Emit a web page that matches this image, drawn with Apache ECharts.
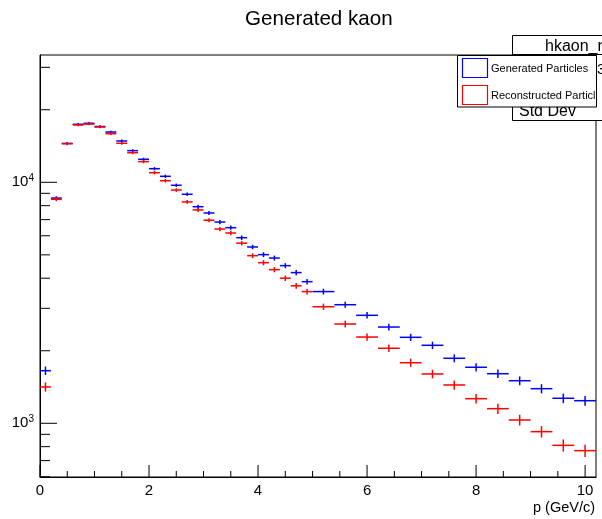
<!DOCTYPE html>
<html>
<head>
<meta charset="utf-8">
<script src="https://cdn.jsdelivr.net/npm/echarts@6/dist/echarts.min.js"></script>
<style>
html,body{margin:0;padding:0;background:#fff;}
#chart{width:602px;height:519px;}
</style>
</head>
<body>
<div id="chart"></div>
<script>
// ---- data ----
const binEdges = [0,0.2,0.4,0.6,0.8,1.0,1.2,1.4,1.6,1.8,2.0,2.2,2.4,2.6,2.8,3.0,3.2,3.4,3.6,3.8,4.0,4.2,4.4,4.6,4.8,5.0,
                  5.4,5.8,6.2,6.6,7.0,7.4,7.8,8.2,8.6,9.0,9.4,9.8,10.2];
const generated = [1653,8600,14500,17400,17570,17040,16170,14840,13530,12460,11390,10590,9720,8920,7920,7460,6840,6480,5890,5390,5010,4850,4510,4220,3870,
                   3520,3105,2806,2509,2274,2107,1861,1708,1606,1502,1392,1270,1241];
const generatedErr = [67,152,197,216,217,214,209,200,191,183,175,169,162,155,146,142,136,132,126,120,116,114,110,107,102,
                      97,91,87,82,78,75,71,68,66,64,61,58,58];
const reconstructed = [1415,8500,14460,17290,17450,16960,15910,14520,13270,12180,10960,10150,9290,8290,7680,6960,6400,6160,5590,4960,4640,4340,4000,3720,3520,
                       3046,2582,2280,2048,1784,1602,1442,1265,1150,1032,923,810,770];
const reconstructedErr = [62,151,197,216,217,214,207,198,189,181,172,165,158,149,144,137,131,129,123,115,112,108,104,100,97,
                          91,83,78,74,69,66,62,58,56,53,50,47,45];
const xMajorTicks = [0,2,4,6,8,10];
const xMinorTicks = [0.5,1,1.5,2.5,3,3.5,4.5,5,5.5,6.5,7,7.5,8.5,9,9.5];
const yMajorTicks = [1000,10000];
const yMinorTicks = [600,700,800,900,2000,3000,4000,5000,6000,7000,8000,9000,20000,30000];
const X_MIN = 0, X_MAX = 10.2, Y_MIN = 598.6, Y_MAX = 33750;

const FONT = 'Liberation Sans, Arial, Helvetica, sans-serif';

function histData(vals, errs) {
  return vals.map((v, i) => {
    const lo = binEdges[i], hi = binEdges[i + 1];
    return [(lo + hi) / 2, v, lo, hi, errs[i]];
  });
}
function histRender(color) {
  return function (params, api) {
    const c = api.value(0), v = api.value(1), lo = api.value(2), hi = api.value(3), e = api.value(4);
    const pL = api.coord([lo, v]), pR = api.coord([hi, v]);
    const pT = api.coord([c, v + e]), pB = api.coord([c, v - e]);
    return {
      type: 'group',
      children: [
        {type: 'line', shape: {x1: pL[0], y1: pL[1], x2: pR[0], y2: pR[1]}, style: {stroke: color, lineWidth: 1.5}},
        {type: 'line', shape: {x1: pT[0], y1: pT[1], x2: pB[0], y2: pB[1]}, style: {stroke: color, lineWidth: 1.5}}
      ]
    };
  };
}

const xTickData = xMajorTicks.map(v => [v, Y_MIN, 12]).concat(xMinorTicks.map(v => [v, Y_MIN, 6]));
const yTickData = yMajorTicks.map(v => [X_MIN, v, 17]).concat(yMinorTicks.map(v => [X_MIN, v, 10]));

const chart = echarts.init(document.getElementById('chart'), null, {renderer: 'canvas'});
chart.setOption({
  backgroundColor: '#fff',
  animation: false,
  title: {
    text: 'Generated kaon',
    left: 245,
    top: 9,
    padding: 0,
    textStyle: {fontFamily: FONT, fontSize: 20.6, fontWeight: 'normal', color: '#000'}
  },
  grid: {left: 40, right: 6, top: 55, bottom: 42, show: true, borderColor: '#000', borderWidth: 1, backgroundColor: 'transparent'},
  xAxis: {
    type: 'value', min: X_MIN, max: X_MAX, interval: 2,
    axisLine: {show: true, lineStyle: {color: '#000', width: 1}},
    axisTick: {show: false},
    splitLine: {show: false},
    axisLabel: {
      margin: 6, fontFamily: FONT, fontSize: 15, color: '#000',
      formatter: v => (Math.abs(v - Math.round(v)) < 1e-9 ? String(Math.round(v)) : '')
    }
  },
  yAxis: {
    type: 'log', logBase: 10, min: Y_MIN, max: Y_MAX, splitNumber: 2,
    axisLine: {show: true, lineStyle: {color: '#000', width: 1}},
    axisTick: {show: false},
    splitLine: {show: false},
    axisLabel: {
      margin: 6, color: '#000',
      formatter: v => {
        const l = Math.log10(v);
        if (Math.abs(l - Math.round(l)) > 1e-6) return '';
        return '{b|10}{s|' + Math.round(l) + '}';
      },
      rich: {
        b: {fontFamily: FONT, fontSize: 15, color: '#000', lineHeight: 18},
        s: {fontFamily: FONT, fontSize: 10, color: '#000', verticalAlign: 'top', lineHeight: 12}
      }
    }
  },
  series: [
    {type: 'custom', name: 'Generated Particles', data: histData(generated, generatedErr),
     encode: {x: 0, y: 1}, renderItem: histRender('#0000ff'), clip: false, silent: true, z: 2},
    {type: 'custom', name: 'Reconstructed Particles', data: histData(reconstructed, reconstructedErr),
     encode: {x: 0, y: 1}, renderItem: histRender('#ff0000'), clip: false, silent: true, z: 3},
    {type: 'custom', data: xTickData, encode: {x: 0, y: 1}, clip: false, silent: true, z: 4,
     renderItem: (params, api) => {
       const p = api.coord([api.value(0), api.value(1)]);
       const len = api.value(2);
       return {type: 'line', shape: {x1: p[0], y1: p[1], x2: p[0], y2: p[1] - len}, style: {stroke: '#000', lineWidth: 1}};
     }},
    {type: 'custom', data: yTickData, encode: {x: 0, y: 1}, clip: false, silent: true, z: 4,
     renderItem: (params, api) => {
       const p = api.coord([api.value(0), api.value(1)]);
       const len = api.value(2);
       return {type: 'line', shape: {x1: p[0], y1: p[1], x2: p[0] + len, y2: p[1]}, style: {stroke: '#000', lineWidth: 1}};
     }}
  ],
  graphic: [
    // stats box (partly off-canvas)
    {type: 'rect', z: 100, shape: {x: 512.5, y: 35.5, width: 120, height: 85}, style: {fill: '#fff', stroke: '#000', lineWidth: 1}},
    {type: 'line', z: 100, shape: {x1: 512.5, y1: 54.5, x2: 610, y2: 54.5}, style: {stroke: '#000', lineWidth: 1}},
    {type: 'text', z: 100, x: 545, y: 47, style: {text: 'hkaon_reco', fontFamily: FONT, fontSize: 16, fill: '#000', textVerticalAlign: 'middle'}},
    {type: 'text', z: 100, x: 597, y: 70, style: {text: '3', fontFamily: FONT, fontSize: 15, fill: '#000', textVerticalAlign: 'middle'}},
    {type: 'text', z: 100, x: 519, y: 112, style: {text: 'Std Dev', fontFamily: FONT, fontSize: 16, fill: '#000', textVerticalAlign: 'middle'}},
    // legend box
    {type: 'rect', z: 110, shape: {x: 457.5, y: 55.5, width: 139, height: 51.5}, style: {fill: '#fff', stroke: '#000', lineWidth: 1}},
    {type: 'rect', z: 110, shape: {x: 462.5, y: 58.5, width: 25, height: 19}, style: {fill: 'none', stroke: '#0000ff', lineWidth: 1.2}},
    {type: 'rect', z: 110, shape: {x: 462.5, y: 85.5, width: 25, height: 19}, style: {fill: 'none', stroke: '#ff0000', lineWidth: 1.2}},
    {type: 'text', z: 110, x: 491, y: 69, style: {text: 'Generated Particles', fontFamily: FONT, fontSize: 11, fill: '#000', textVerticalAlign: 'middle'}},
    {type: 'text', z: 110, x: 491, y: 96, style: {text: 'Reconstructed Particles', fontFamily: FONT, fontSize: 11, fill: '#000', textVerticalAlign: 'middle'}},
    {type: 'rect', z: 111, shape: {x: 597, y: 84, width: 8, height: 22}, style: {fill: '#fff', stroke: 'none'}},
    {type: 'line', z: 112, shape: {x1: 596.5, y1: 55.5, x2: 596.5, y2: 107}, style: {stroke: '#000', lineWidth: 1}},
    // axis title
    {type: 'text', z: 100, x: 595, y: 508, style: {text: 'p (GeV/c)', fontFamily: FONT, fontSize: 14.5, fill: '#000', textAlign: 'right', textVerticalAlign: 'middle'}}
  ]
});
</script>
</body>
</html>
